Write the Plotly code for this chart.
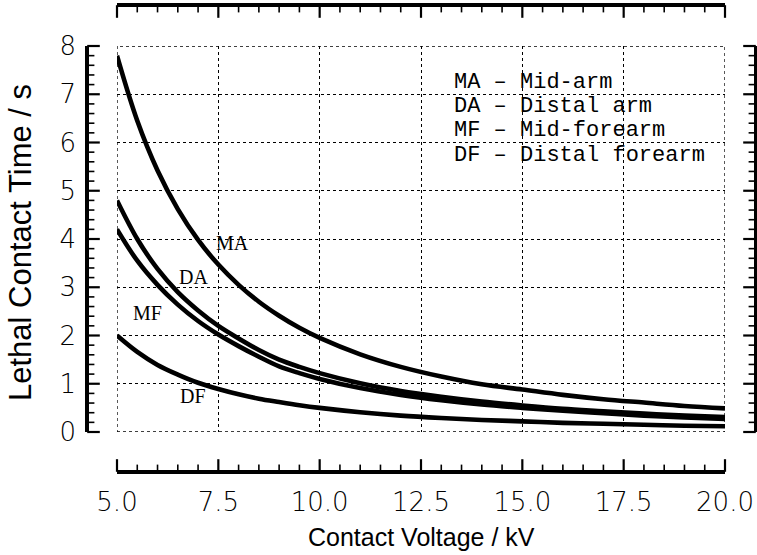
import plotly.graph_objects as go

# Contact voltage (kV) sample points
voltage = [5.0, 5.5, 6.0, 6.5, 7.0, 7.5, 8.0, 8.5, 9.0, 9.5, 10.0, 11.0, 12.0, 13.0,
           14.0, 15.0, 16.0, 17.0, 18.0, 19.0, 20.0]

# Lethal contact time (s) for each contact site
t_mid_arm = [7.80, 6.45, 5.42, 4.62, 3.98, 3.47, 3.05, 2.70, 2.41, 2.16, 1.95, 1.61,
             1.35, 1.15, 0.99, 0.88, 0.77, 0.68, 0.61, 0.54, 0.49]
t_distal_arm = [4.80, 4.00, 3.38, 2.90, 2.52, 2.20, 1.94, 1.70, 1.50, 1.35, 1.22, 1.01,
                0.85, 0.73, 0.63, 0.55, 0.48, 0.43, 0.38, 0.34, 0.31]
t_mid_forearm = [4.20, 3.55, 3.05, 2.64, 2.30, 2.02, 1.78, 1.56, 1.36, 1.22, 1.10, 0.91,
                 0.77, 0.66, 0.57, 0.50, 0.44, 0.39, 0.34, 0.30, 0.27]
t_distal_forearm = [2.00, 1.66, 1.39, 1.19, 1.02, 0.89, 0.78, 0.69, 0.62, 0.555, 0.50, 0.41,
                    0.34, 0.29, 0.25, 0.22, 0.19, 0.17, 0.15, 0.13, 0.12]

series = [t_mid_arm, t_distal_arm, t_mid_forearm, t_distal_forearm]

# Curve tags and where they sit
curve_tags = ["MA", "DA", "MF", "DF"]
tag_x = [7.86, 6.88, 5.76, 6.88]
tag_y = [3.92, 3.21, 2.47, 0.75]

# Key text
key_lines = ["MA \u2013 Mid-arm", "DA \u2013 Distal arm",
             "MF \u2013 Mid-forearm", "DF \u2013 Distal forearm"]
key_y = [7.24, 6.74, 6.24, 5.73]

# Axis ticks
x_ticks = [5.0, 7.5, 10.0, 12.5, 15.0, 17.5, 20.0]
y_ticks = [0, 1, 2, 3, 4, 5, 6, 7, 8]
X_MINOR_STEP = 0.5
Y_MINOR_STEP = 0.2

X_RANGE = [x_ticks[0], x_ticks[-1]]
Y_RANGE = [y_ticks[0], y_ticks[-1]]

x_minor = [X_RANGE[0] + i * X_MINOR_STEP
           for i in range(int(round((X_RANGE[1] - X_RANGE[0]) / X_MINOR_STEP)) + 1)]
y_minor = [Y_RANGE[0] + i * Y_MINOR_STEP
           for i in range(int(round((Y_RANGE[1] - Y_RANGE[0]) / Y_MINOR_STEP)) + 1)]
x_minor = [v for v in x_minor if all(abs(v - t) > 1e-9 for t in x_ticks)]
y_minor = [v for v in y_minor if all(abs(v - t) > 1e-9 for t in y_ticks)]

# page geometry (px)
W, H = 757, 555
M_L, M_R, M_T, M_B = 89, 3, 7, 85
PW, PH = W - M_L - M_R, H - M_T - M_B
x_dom = [(117 - M_L) / PW, (725 - M_L) / PW]
y_dom = [(M_T + PH - 432) / PH, (M_T + PH - 46) / PH]
STRIP = 0.02                      # thickness of the frame strips (paper fraction)
SX, SY = STRIP * PW, STRIP * PH   # the same in px

fig = go.Figure()
for ys in series:
    fig.add_trace(go.Scatter(x=voltage, y=ys, mode="lines",
                             line=dict(color="black", width=4.6, shape="spline", smoothing=1.0),
                             hoverinfo="skip", showlegend=False))


def tick_marks(xs, ys, xa, ya, symbol, size, width):
    fig.add_trace(go.Scatter(x=xs, y=ys, xaxis=xa, yaxis=ya, mode="markers",
                             marker=dict(symbol=symbol, size=size, color="black",
                                         line=dict(width=width, color="black")),
                             cliponaxis=False, hoverinfo="skip", showlegend=False))


MAJ, MIN = 9, 4.5   # tick lengths, px
# bottom frame: ticks rise from the line
tick_marks(x_ticks, [MAJ / 2] * len(x_ticks), "x3", "y3", "line-ns", MAJ, 2.2)
tick_marks(x_minor, [MIN / 2] * len(x_minor), "x3", "y3", "line-ns", MIN, 1.6)
# top frame: ticks hang from the line
tick_marks(x_ticks, [SY - MAJ / 2] * len(x_ticks), "x4", "y4", "line-ns", MAJ, 2.2)
tick_marks(x_minor, [SY - MIN / 2] * len(x_minor), "x4", "y4", "line-ns", MIN, 1.6)
# left frame: ticks point right
tick_marks([MAJ / 2] * len(y_ticks), y_ticks, "x5", "y5", "line-ew", MAJ, 2.2)
tick_marks([MIN / 2] * len(y_minor), y_minor, "x5", "y5", "line-ew", MIN, 1.6)
# right frame: ticks point left
tick_marks([SX - MAJ / 2] * len(y_ticks), y_ticks, "x6", "y6", "line-ew", MAJ, 2.2)
tick_marks([SX - MIN / 2] * len(y_minor), y_minor, "x6", "y6", "line-ew", MIN, 1.6)

# dotted border of the data area
fig.add_shape(type="rect", x0=X_RANGE[0], x1=X_RANGE[1], y0=Y_RANGE[0], y1=Y_RANGE[1],
              xref="x", yref="y", line=dict(color="black", width=1.3, dash="dot"),
              layer="below")

for t, xx, yy in zip(curve_tags, tag_x, tag_y):
    fig.add_annotation(x=xx, y=yy, text=t, showarrow=False,
                       font=dict(family="Liberation Serif", size=20, color="black"))

for line, yy in zip(key_lines, key_y):
    fig.add_annotation(x=13.27, y=yy, text=line, showarrow=False, xanchor="left",
                       font=dict(family="Liberation Mono", size=22, color="black"))

# axis titles
fig.add_annotation(text="Contact Voltage / kV", xref="paper", yref="paper",
                   x=(421 - M_L) / PW, y=(M_T + PH - 537) / PH, showarrow=False,
                   xanchor="center", yanchor="middle",
                   font=dict(family="Liberation Sans", size=25, color="black"))
fig.add_annotation(text="Lethal Contact Time / s", xref="paper", yref="paper",
                   x=(20 - M_L) / PW, y=(M_T + PH - 243) / PH, showarrow=False,
                   textangle=-90, xanchor="center", yanchor="middle",
                   font=dict(family="Liberation Sans", size=31, color="black"))

tick_font = dict(family="DejaVu Sans", size=26, color="black", weight=200)

grid = dict(showgrid=True, gridcolor="black", gridwidth=1.3, griddash="dot",
            zeroline=False, showline=False, ticks="", showticklabels=False)
hidden_x = dict(visible=False, range=[0, SX])
hidden_y = dict(visible=False, range=[0, SY])
frame = dict(showline=True, linecolor="black", ticks="", showgrid=False,
             zeroline=False, automargin=False)

fig.update_layout(
    width=W, height=H,
    margin=dict(l=M_L, r=M_R, t=M_T, b=M_B, pad=0),
    paper_bgcolor="white", plot_bgcolor="rgba(0,0,0,0)",
    showlegend=False,
    xaxis=dict(domain=x_dom, range=X_RANGE, anchor="y", tickmode="array",
               tickvals=x_ticks, **grid),
    yaxis=dict(domain=y_dom, range=Y_RANGE, anchor="x", tickmode="array",
               tickvals=y_ticks, **grid),
    # bottom frame axis with labels
    xaxis3=dict(domain=x_dom, range=X_RANGE, anchor="y3", side="bottom", linewidth=4,
                tickmode="array", tickvals=x_ticks,
                ticktext=[f"{v:.1f}" for v in x_ticks], tickfont=tick_font,
                ticklabelstandoff=6, **frame),
    yaxis3=dict(domain=[0, STRIP], anchor="x3", **hidden_y),
    # top frame axis
    xaxis4=dict(domain=x_dom, range=X_RANGE, anchor="y4", side="top", linewidth=3.5,
                showticklabels=False, **frame),
    yaxis4=dict(domain=[1 - STRIP, 1], anchor="x4", **hidden_y),
    # left frame axis with labels
    yaxis5=dict(domain=y_dom, range=Y_RANGE, anchor="x5", side="left", linewidth=3.5,
                tickmode="array", tickvals=y_ticks, tickfont=tick_font,
                ticklabelstandoff=4, **frame),
    xaxis5=dict(domain=[0, STRIP], anchor="y5", **hidden_x),
    # right frame axis
    yaxis6=dict(domain=y_dom, range=Y_RANGE, anchor="x6", side="right", linewidth=3,
                showticklabels=False, **frame),
    xaxis6=dict(domain=[1 - STRIP, 1], anchor="y6", **hidden_x),
)

fig.write_html("out.html")
